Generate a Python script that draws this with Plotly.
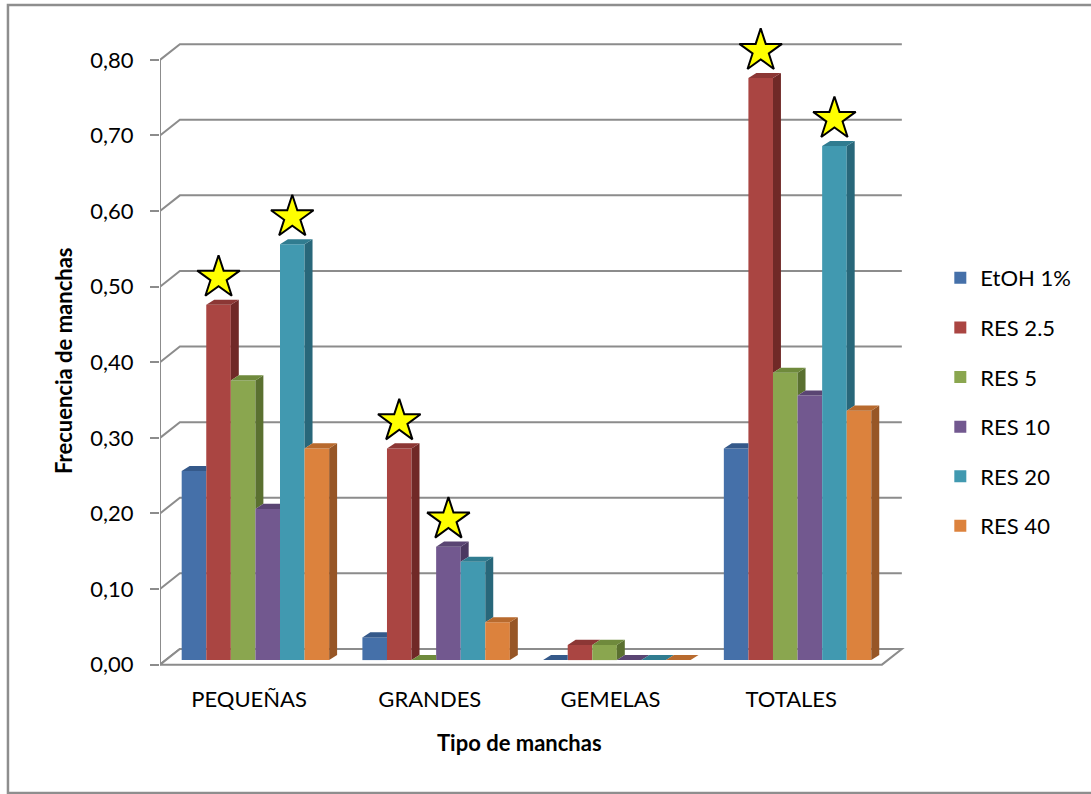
import plotly.graph_objects as go

# ---------------- data ----------------
categories = ["PEQUEÑAS", "GRANDES", "GEMELAS", "TOTALES"]
series_names = ["EtOH 1%", "RES 2.5", "RES 5", "RES 10", "RES 20", "RES 40"]
etoh_1 = [0.25, 0.03, 0.00, 0.28]
res_2_5 = [0.47, 0.28, 0.02, 0.77]
res_5 = [0.37, 0.00, 0.02, 0.38]
res_10 = [0.20, 0.15, 0.00, 0.35]
res_20 = [0.55, 0.13, 0.00, 0.68]
res_40 = [0.28, 0.05, 0.00, 0.33]
series_values = [etoh_1, res_2_5, res_5, res_10, res_20, res_40]

# significant differences marked with a star: (category, series)
star_marks = [
    ("PEQUEÑAS", "RES 2.5"), ("PEQUEÑAS", "RES 20"),
    ("GRANDES", "RES 2.5"), ("GRANDES", "RES 10"),
    ("TOTALES", "RES 2.5"), ("TOTALES", "RES 20"),
]

y_ticks = [0.0, 0.1, 0.2, 0.3, 0.4, 0.5, 0.6, 0.7, 0.8]
y_tick_labels = ["0,00", "0,10", "0,20", "0,30", "0,40", "0,50", "0,60", "0,70", "0,80"]

# ---------------- style ----------------
front_colors = ["#4570A9", "#AA4542", "#8AA64F", "#72588F", "#4199B0", "#DC823D"]
top_colors = ["#35598A", "#8C3735", "#6F8A3C", "#5A4573", "#307C90", "#B86A2E"]
side_colors = ["#2C4A73", "#702927", "#5A7030", "#4B3961", "#28677A", "#975626"]
GRID = "#8C8C8C"
FONT = "Lato, 'Open Sans', sans-serif"
FS = 22

BAR_W = 0.136          # width of one bar (category units)
DEPTH_X = 0.044        # bar depth projection (x)
DEPTH_Y = 0.0068       # bar depth projection (y)
FRONT_X = -0.528       # front-left corner of the floor
FRONT_RIGHT = 3.467
WALL_DX = 0.11
FRONT_DY = -0.006
BACK_DY = 0.0148
STAR_LIFT = 0.036
LABEL_DX = -0.035

n_series = len(series_names)


def bar_left(ci, si):
    return ci - n_series / 2 * BAR_W + si * BAR_W


fig = go.Figure()

# front faces (real bars)
for si, name in enumerate(series_names):
    fig.add_trace(go.Bar(
        x=list(range(len(categories))), y=series_values[si], name=name,
        width=BAR_W, offset=-n_series / 2 * BAR_W + si * BAR_W,
        marker=dict(color=front_colors[si], line=dict(width=0)),
        legendgroup=name,
    ))

# side and top faces (pseudo 3D), computed from values
for si in range(n_series):
    sx, sy, tx, ty = [], [], [], []
    for ci in range(len(categories)):
        v = series_values[si][ci]
        L = bar_left(ci, si)
        R = L + BAR_W
        nxt = series_values[si + 1][ci] if si + 1 < n_series else 0.0
        base = nxt if si + 1 < n_series else 0.0
        # side face (visible part above neighbour)
        if v > base or si + 1 == n_series:
            sx += [R, R + DEPTH_X, R + DEPTH_X, R, R, None]
            sy += [base, base + DEPTH_Y, v + DEPTH_Y, v, base, None]
        # top face
        if si + 1 < n_series and nxt > v:
            tx += [L, L + DEPTH_X, R, R, L, None]
            ty += [v, v + DEPTH_Y, v + DEPTH_Y, v, v, None]
        else:
            tx += [L, L + DEPTH_X, R + DEPTH_X, R, L, None]
            ty += [v, v + DEPTH_Y, v + DEPTH_Y, v, v, None]
    fig.add_trace(go.Scatter(x=sx, y=sy, mode="lines", fill="toself",
                             fillcolor=side_colors[si], line=dict(width=0),
                             showlegend=False, hoverinfo="skip"))
    fig.add_trace(go.Scatter(x=tx, y=ty, mode="lines", fill="toself",
                             fillcolor=top_colors[si], line=dict(width=0),
                             showlegend=False, hoverinfo="skip"))

# stars
star_x, star_y = [], []
for cat, ser in star_marks:
    ci = categories.index(cat)
    si = series_names.index(ser)
    L = bar_left(ci, si)
    star_x.append(L + BAR_W / 2)
    star_y.append(series_values[si][ci] + STAR_LIFT)
fig.add_trace(go.Scatter(
    x=star_x, y=star_y, mode="markers", showlegend=False, hoverinfo="skip",
    marker=dict(symbol="star", size=32, color="#FFFF00",
                line=dict(color="#000000", width=2)),
))

# back wall gridlines + floor (below traces)
shapes = []
x_back_left = FRONT_X + WALL_DX
x_back_right = FRONT_RIGHT + WALL_DX
for v in y_ticks:
    path = (f"M {FRONT_X},{v + FRONT_DY} L {x_back_left},{v + BACK_DY} "
            f"L {x_back_right},{v + BACK_DY}")
    shapes.append(dict(type="path", path=path, xref="x", yref="y", layer="below",
                       line=dict(color=GRID, width=2)))
floor = (f"M {FRONT_X},{FRONT_DY} L {FRONT_RIGHT},{FRONT_DY} "
         f"L {x_back_right},{BACK_DY} L {x_back_left},{BACK_DY} Z")
shapes.append(dict(type="path", path=floor, xref="x", yref="y", layer="below",
                   fillcolor="white", line=dict(color=GRID, width=2)))
# front vertical axis
shapes.append(dict(type="line", xref="x", yref="y", x0=FRONT_X, x1=FRONT_X,
                   y0=y_ticks[0] + FRONT_DY, y1=y_ticks[-1] + FRONT_DY,
                   line=dict(color=GRID, width=2), layer="below"))
# outer chart frame
shapes.append(dict(type="rect", xref="paper", yref="paper",
                   x0=-0.2038, x1=1.26, y0=-0.1705, y1=1.0075,
                   line=dict(color="#8E8E8E", width=2.5), fillcolor="rgba(0,0,0,0)",
                   layer="below"))

fig.update_layout(
    width=1091, height=794,
    margin=dict(l=160, r=185, t=10, b=115),
    paper_bgcolor="white", plot_bgcolor="white",
    barmode="overlay",
    font=dict(family=FONT, size=FS, color="#000000"),
    shapes=shapes,
    showlegend=True,
    legend=dict(x=1.046, xanchor="left", y=0.414, yanchor="middle",
                font=dict(family=FONT, size=FS, color="#000000"),
                tracegroupgap=18, itemwidth=30, bgcolor="rgba(0,0,0,0)"),
    xaxis=dict(range=[FRONT_X, 3.60], showgrid=False, zeroline=False, showline=False,
               tickmode="array", tickvals=[i + LABEL_DX for i in range(len(categories))],
               ticktext=categories, ticks="", ticklabelstandoff=5,
               tickfont=dict(family=FONT, size=FS, color="#000000")),
    yaxis=dict(range=[-0.025, 0.86], showgrid=False, zeroline=False, showline=False,
               tickmode="array", tickvals=[v + FRONT_DY for v in y_ticks],
               ticktext=y_tick_labels, ticks="outside", ticklen=9, tickwidth=2,
               tickcolor=GRID, ticklabelstandoff=12,
               tickfont=dict(family=FONT, size=FS, color="#000000")),
    annotations=[
        dict(text="<b>Tipo de manchas</b>", xref="paper", yref="paper",
             x=(519 - 160) / 746, y=-(742 - 679) / 669, xanchor="center", yanchor="middle",
             showarrow=False, font=dict(family=FONT, size=FS, color="#000000")),
        dict(text="<b>Frecuencia de manchas</b>", xref="paper", yref="paper",
             x=-(160 - 63) / 746, y=(679 - 361) / 669, xanchor="center", yanchor="middle",
             textangle=-90, showarrow=False,
             font=dict(family=FONT, size=FS, color="#000000")),
    ],
)

fig.write_html("out.html")
